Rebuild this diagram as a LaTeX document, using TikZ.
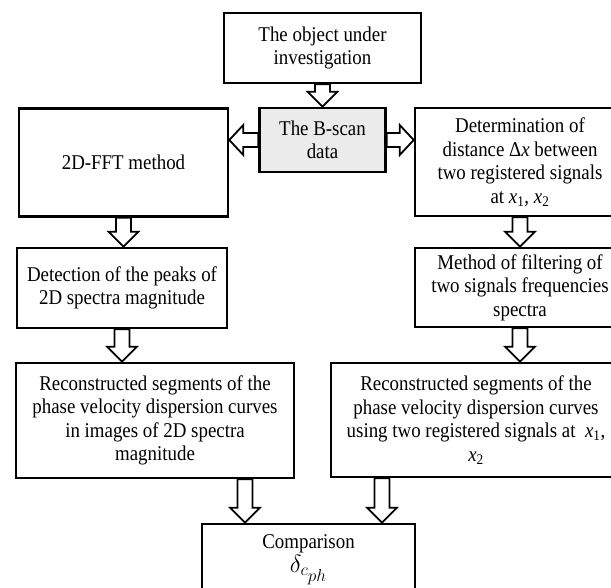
\documentclass[tikz,border=0pt]{standalone}
\usepackage{fontspec}
\setmainfont{Liberation Serif}[FakeStretch=0.9]
\usepackage{tikz}
\usetikzlibrary{calc}

% flechas huecas entre cajas
\newcommand{\flechaV}[2]{%
  \draw[flecha] let \p1=(#1), \p2=(#2), \p3=($(\x1,\y2)!15pt!(\p1)$) in
    (\x1-7.5pt,\y1) -- (\x1-7.5pt,\y3) -- (\x1-15pt,\y3) -- (\x1,\y2)
    -- (\x1+15pt,\y3) -- (\x1+7.5pt,\y3) -- (\x1+7.5pt,\y1) -- cycle;}
\newcommand{\flechaH}[2]{%
  \draw[flecha] let \p1=(#1), \p2=(#2), \p3=($(\x2,\y1)!14pt!(\p1)$) in
    (\x1,\y1-7pt) -- (\x3,\y1-7pt) -- (\x3,\y1-15pt) -- (\x2,\y1)
    -- (\x3,\y1+15pt) -- (\x3,\y1+7pt) -- (\x1,\y1+7pt) -- cycle;}

\begin{document}
\begin{tikzpicture}[x=1pt, y=-1pt,
    caja/.style={draw, line width=2.6pt, fill=white, align=center, inner sep=0pt,
      font=\fontsize{21}{23.5}\selectfont},
    flecha/.style={draw, line width=1.8pt, fill=white, line join=miter}]
    \useasboundingbox (0,0) rectangle (611,587);
    \clip (0,0) rectangle (611,587);
    % Cajas
    \node[caja, minimum width=197pt, minimum height=70pt] (obj) at (322.5,48)
        {The object under\\investigation};
    \node[caja, fill=black!8, minimum width=126pt, minimum height=64pt] (bscan) at (322.5,140)
        {The B-scan\\data};
    \node[caja, minimum width=209pt, minimum height=108pt] (fft) at (123.5,162.5)
        {2D-FFT method};
    \node[caja, minimum width=210pt, minimum height=108pt] (dist) at (520,162)
        {Determination of\\distance Δ\textit{x} between\\two registered signals\\at \textit{x}\textsubscript{1}, \textit{x}\textsubscript{2}};
    \node[caja, minimum width=210pt, minimum height=80pt] (peaks) at (122,288)
        {Detection of the peaks of\\2D spectra magnitude};
    \node[caja, minimum width=210pt, minimum height=79pt] (filt) at (520,287.5)
        {Method of filtering of\\two signals frequencies\\spectra};
    \node[caja, minimum width=278pt, minimum height=115pt] (rec1) at (155,420.5)
        {Reconstructed segments of the\\phase velocity dispersion curves\\in images of 2D spectra\\magnitude};
    \node[caja, minimum width=290pt, minimum height=114pt] (rec2) at (476,420)
        {Reconstructed segments of the\\phase velocity dispersion curves\\using two registered signals at \ \textit{x}\textsubscript{1},\\\textit{x}\textsubscript{2}};
    \node[caja, minimum width=213pt, minimum height=72pt] (comp) at (308.5,560)
        {Comparison\\{\fontsize{25}{23.5}\selectfont$\delta_{c_{\scriptstyle ph}}$}};
    % Flechas
    \flechaV{obj.south}{bscan.north}
    \flechaH{bscan.west}{fft.east}
    \flechaH{bscan.east}{dist.west}
    \flechaV{fft.south}{peaks.north}
    \flechaV{dist.south}{filt.north}
    \flechaV{peaks.south}{rec1.north}
    \flechaV{filt.south}{rec2.north}
    \flechaV{[xshift=90pt]rec1.south}{comp.north}
    \flechaV{[xshift=-94pt]rec2.south}{comp.north}
\end{tikzpicture}
\end{document}
